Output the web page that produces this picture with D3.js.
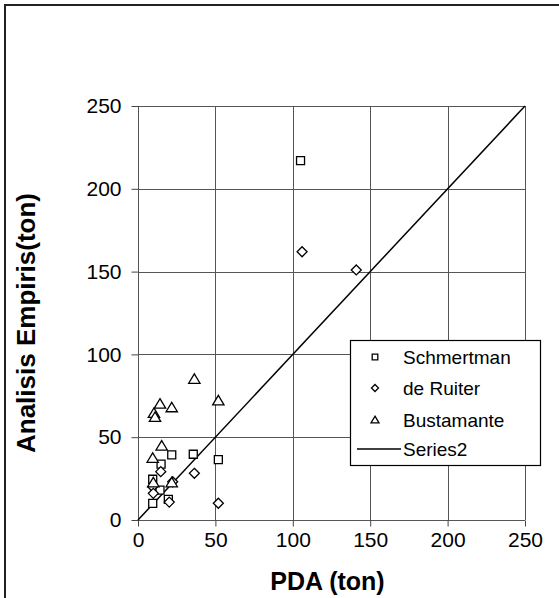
<!DOCTYPE html>
<meta charset="utf-8">
<body style="margin:0;background:#fff">
<script src="https://d3js.org/d3.v7.min.js"></script>
<div id="chart"></div>
<script>

var schmPDA = [105, 21.8, 35.7, 51.9, 14.9, 9.5, 14.2, 19.6, 9.5];
var schmEmp = [217, 39.3, 39.7, 36.5, 33.8, 24.6, 18.1, 12.5, 10];
var ruitPDA = [106, 141, 36.4, 14.7, 22.4, 9.5, 9.9, 20.2, 51.9];
var ruitEmp = [162, 151, 28.2, 29.2, 23.1, 20.1, 16.1, 10.8, 10.1];
var bustPDA = [36.4, 51.9, 14.2, 21.8, 10.3, 11, 15.3, 9.5, 9.9, 21.8];
var bustEmp = [85, 72, 70, 67.8, 64.4, 62, 44.7, 37.3, 22.5, 22.5];
var linePDA = [0, 250];
var lineEmp = [0, 250];
var ticks = [0, 50, 100, 150, 200, 250];
var legendNames = ["Schmertman", "de Ruiter", "Bustamante", "Series2"];

var W = 559, H = 598;
var svg = d3.select("#chart").append("svg")
    .attr("width", W).attr("height", H)
    .style("font-family", "'Liberation Sans', Arial, sans-serif");

// outer chart frame (right / bottom edges run off the picture)
svg.append("rect")
    .attr("x", 5).attr("y", 5)
    .attr("width", 700).attr("height", 700)
    .attr("fill", "none").attr("stroke", "#222").attr("stroke-width", 2);

var x = d3.scaleLinear().domain([0, 250]).range([138, 525]);
var y = d3.scaleLinear().domain([0, 250]).range([520, 106]);

// gridlines
var grid = svg.append("g").attr("stroke", "#555").attr("stroke-width", 1);
grid.selectAll("line.h").data(ticks).enter().append("line")
    .attr("x1", x(0)).attr("x2", x(250))
    .attr("y1", function (d) { return Math.round(y(d)) + 0.5; })
    .attr("y2", function (d) { return Math.round(y(d)) + 0.5; });
grid.selectAll("line.v").data(ticks).enter().append("line")
    .attr("y1", y(0)).attr("y2", y(250))
    .attr("x1", function (d) { return Math.round(x(d)) + 0.5; })
    .attr("x2", function (d) { return Math.round(x(d)) + 0.5; });

// axes
var xAxis = svg.append("g")
    .attr("transform", "translate(0," + (Math.round(y(0)) + 0.5) + ")")
    .call(d3.axisBottom(x).tickValues(ticks).tickSize(6).tickPadding(6).tickSizeOuter(0));
var yAxis = svg.append("g")
    .attr("transform", "translate(" + (Math.round(x(0)) + 0.5) + ",0)")
    .call(d3.axisLeft(y).tickValues(ticks).tickSize(7).tickPadding(10).tickSizeOuter(0));
[xAxis, yAxis].forEach(function (a) {
  a.select(".domain").remove();
  a.selectAll("line").attr("stroke", "#444");
  a.selectAll("text").style("font-size", "21px").style("font-family", "'Liberation Sans', Arial, sans-serif").attr("fill", "#000");
});

// axis titles
svg.append("text")
    .attr("x", (x(0) + x(250)) / 2 - 4).attr("y", 590)
    .attr("text-anchor", "middle")
    .style("font-size", "25px").style("font-weight", "bold")
    .text("PDA (ton)");
svg.append("text")
    .attr("transform", "translate(35," + ((y(0) + y(250)) / 2 + 10) + ") rotate(-90)")
    .attr("text-anchor", "middle")
    .style("font-size", "26px").style("font-weight", "bold")
    .text("Analisis Empiris(ton)");

// marker shapes
function square(s) { return "M" + (-s) + "," + (-s) + "H" + s + "V" + s + "H" + (-s) + "Z"; }
function diamond(s) { return "M0," + (-s) + "L" + s + ",0L0," + s + "L" + (-s) + ",0Z"; }
function triangle(s) { return "M0," + (-s) + "L" + (s * 1.05) + "," + (s * 0.75) + "L" + (-s * 1.05) + "," + (s * 0.75) + "Z"; }

// Series2 line y = x
svg.append("path")
    .datum(d3.zip(linePDA, lineEmp))
    .attr("fill", "none").attr("stroke", "#000").attr("stroke-width", 1.5)
    .attr("d", d3.line().x(function (d) { return x(d[0]); }).y(function (d) { return y(d[1]); }));

function drawSeries(px, py, shape, size) {
  svg.append("g").selectAll("path")
    .data(d3.zip(px, py))
    .enter().append("path")
      .attr("transform", function (d) { return "translate(" + x(d[0]) + "," + y(d[1]) + ")"; })
      .attr("d", shape(size))
      .attr("fill", "#fff").attr("stroke", "#000").attr("stroke-width", 1.3);
}
drawSeries(schmPDA, schmEmp, square, 4);
drawSeries(ruitPDA, ruitEmp, diamond, 5);
drawSeries(bustPDA, bustEmp, triangle, 5.4);

// legend
var lg = svg.append("g");
lg.append("rect")
    .attr("x", 350.5).attr("y", 340.5).attr("width", 190).attr("height", 125)
    .attr("fill", "#fff").attr("stroke", "#000").attr("stroke-width", 1.2);
var rowY = [357, 388, 420, 449];
var legendShapes = [square, diamond, triangle];
var legendSizes = [2.8, 3.5, 3.8];
legendNames.forEach(function (name, i) {
  if (i < 3) {
    lg.append("path")
        .attr("transform", "translate(375," + rowY[i] + ")")
        .attr("d", legendShapes[i](legendSizes[i]))
        .attr("fill", "#fff").attr("stroke", "#000").attr("stroke-width", 1.3);
  } else {
    lg.append("line")
        .attr("x1", 357).attr("x2", 401).attr("y1", rowY[i]).attr("y2", rowY[i])
        .attr("stroke", "#000").attr("stroke-width", 1.5);
  }
  lg.append("text")
      .attr("x", 403).attr("y", rowY[i] + 7)
      .style("font-size", "19px")
      .text(name);
});

</script>
</body>
